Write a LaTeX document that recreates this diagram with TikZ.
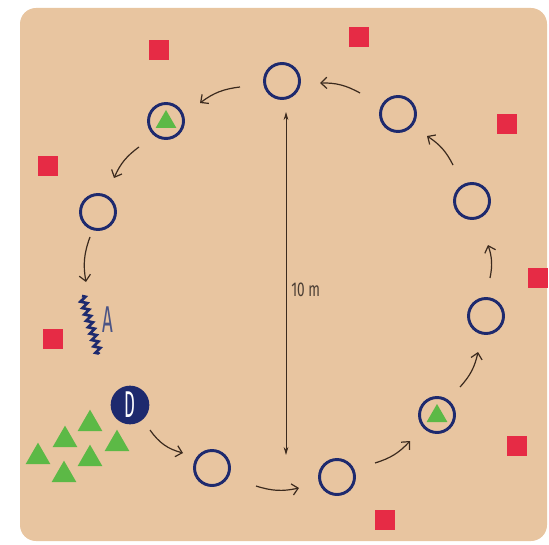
\documentclass[tikz,border=0pt]{standalone}
\usepackage{fontspec}
\usepackage{graphicx}
\setmainfont{Fira Sans}
\usetikzlibrary{arrows.meta,shapes.geometric,decorations.pathmorphing}
\definecolor{bgc}{HTML}{E8C5A0}
\definecolor{navy}{HTML}{1E2A6E}
\definecolor{redc}{HTML}{E62B45}
\definecolor{greenc}{HTML}{5CB946}
\definecolor{arrowc}{HTML}{3B2A1E}
\definecolor{textc}{HTML}{4A3D33}
\definecolor{alab}{HTML}{4B5485}
\tikzset{
  ring/.style={circle, draw=navy, line width=2.2pt, minimum size=26.25pt, inner sep=0pt},
  intri/.style={regular polygon, regular polygon sides=3, fill=greenc, minimum size=18pt, inner sep=0pt},
  gtri/.style={regular polygon, regular polygon sides=3, fill=greenc, minimum size=21.5pt, inner sep=0pt},
  rsq/.style={rectangle, fill=redc, minimum size=15pt, inner sep=0pt},
  mv/.style={draw=arrowc, line width=0.9pt, -{Straight Barb[length=4.5pt,width=8.5pt]}},
  dim/.style={draw=arrowc, line width=0.7pt, {Stealth[length=6pt,width=3.5pt]}-{Stealth[length=6pt,width=3.5pt]}},
  dcirc/.style={circle, fill=navy, minimum size=29pt, inner sep=0pt, text=white}
}
\begin{document}
\begin{tikzpicture}[x=0.75pt,y=-0.75pt]
\useasboundingbox (0,0) rectangle (549,545);
\fill[bgc, rounded corners=12pt] (20,8) rectangle (547,541);

% red squares
\node[rsq] (r1) at (159,50) {};
\node[rsq] (r2) at (359,37) {};
\node[rsq] (r3) at (507,124) {};
\node[rsq] (r4) at (48,166) {};
\node[rsq] (r5) at (538,278) {};
\node[rsq] (r6) at (53,339) {};
\node[rsq] (r7) at (517,446) {};
\node[rsq] (r8) at (385,520) {};

% rings
\node[ring] (c1) at (212,468) {};
\node[ring] (c2) at (337,477) {};
\node[ring] (c3) at (437,415) {};
\node[intri] (t3) at (437,416) {};
\node[ring] (c4) at (486,316) {};
\node[ring] (c5) at (472,201) {};
\node[ring] (c6) at (398,114) {};
\node[ring] (c7) at (282,81) {};
\node[ring] (c8) at (166,121) {};
\node[intri] (t8) at (166,122) {};
\node[ring] (c9) at (98,212) {};

% start player D
\node[dcirc] (D) at (130,405) {\scalebox{0.45}[1]{\fontsize{28}{28}\selectfont D}};

% green cones
\node[gtri] (g1) at (90,424) {};
\node[gtri] (g2) at (65,440) {};
\node[gtri] (g3) at (38,457) {};
\node[gtri] (g4) at (117,444) {};
\node[gtri] (g5) at (90,459) {};
\node[gtri] (g6) at (64,475) {};

% player A zigzag
\coordinate (z1) at (82,296);
\coordinate (z2) at (99,354);
\draw[navy, line width=2pt, decorate, decoration={zigzag, segment length=5pt, amplitude=2.3pt}] (z1) -- (z2);
\node[text=alab, inner sep=0pt] (A) at (108,320) {\scalebox{0.5}[1]{\fontsize{28}{28}\selectfont A}};

% movement arrows
\coordinate (a1s) at (150,430); \coordinate (a1e) at (183,453);
\coordinate (a2s) at (256,486); \coordinate (a2e) at (299,488);
\coordinate (a3s) at (375,463); \coordinate (a3e) at (410,441);
\coordinate (a4s) at (460,387); \coordinate (a4e) at (478,352);
\coordinate (a5s) at (490,278); \coordinate (a5e) at (488,245);
\coordinate (a6s) at (453,165); \coordinate (a6e) at (427,136);
\coordinate (a7s) at (360,93);  \coordinate (a7e) at (320,83);
\coordinate (a8s) at (240,87);  \coordinate (a8e) at (200,103);
\coordinate (a9s) at (139,147); \coordinate (a9e) at (114,178);
\coordinate (a10s) at (90,237); \coordinate (a10e) at (86,282);
\draw[mv] (a1s) to[bend right=20] (a1e);
\draw[mv] (a2s) to[bend right=15] (a2e);
\draw[mv] (a3s) to[bend right=15] (a3e);
\draw[mv] (a4s) to[bend right=15] (a4e);
\draw[mv] (a5s) to[bend right=15] (a5e);
\draw[mv] (a6s) to[bend right=15] (a6e);
\draw[mv] (a7s) to[bend right=15] (a7e);
\draw[mv] (a8s) to[bend right=15] (a8e);
\draw[mv] (a9s) to[bend right=15] (a9e);
\draw[mv] (a10s) to[bend right=15] (a10e);

% dimension line
\coordinate (dtop) at (286,112);
\coordinate (dbot) at (286,455);
\draw[dim] (dtop) -- (dbot);
\node[anchor=west, text=textc, inner sep=0pt] (lab) at (291,290) {\scalebox{0.68}[1]{\fontsize{15}{15}\selectfont 10 m}};
\end{tikzpicture}
\end{document}
